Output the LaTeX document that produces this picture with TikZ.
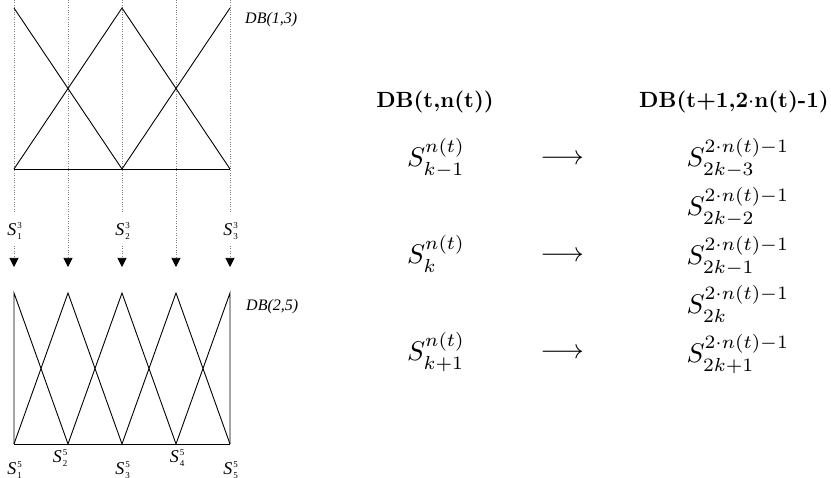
\documentclass[tikz,border=0pt]{standalone}
\usepackage{fontspec}
\newfontfamily\tms{Liberation Serif}
\usetikzlibrary{arrows.meta}
\newcommand{\Slab}[2]{{\tms\fontsize{18}{18}\selectfont\textit{S}\kern1pt\makebox[0pt][l]{\raisebox{7.5pt}{\fontsize{9}{9}\selectfont #2}}\raisebox{-3.5pt}{\fontsize{9}{9}\selectfont #1}}}
\tikzset{
  curve/.style={line width=0.9pt, black},
  guide/.style={black!50, line width=0.7pt, dash pattern=on 0.8pt off 1.6pt},
  tipd/.style={-{Triangle[width=9pt,length=9pt,color=black]}},
  dblab/.style={font=\tms\fontsize{16}{16}\selectfont\itshape, anchor=west, inner sep=0pt},
  slab/.style={anchor=base, inner sep=0pt},
  mth/.style={scale=2.7, inner sep=0pt},
  hdr/.style={scale=2.2, font=\bfseries, inner sep=0pt}
}
\begin{document}
\begin{tikzpicture}[x=1pt,y=-1pt]
\useasboundingbox (0,0) rectangle (831,478);
\foreach \x [count=\i] in {14,68,122,176,230} {
  \coordinate (g\i) at (\x,0);
  \coordinate (a\i) at (\x,267);
  \coordinate (u\i) at (\x,213);
  \coordinate (d\i) at (\x,246);
  \coordinate (t\i) at (\x,8);
  \coordinate (b\i) at (\x,169);
  \coordinate (T\i) at (\x,293);
  \coordinate (B\i) at (\x,444);
}
% guides
\draw[guide] (g1) -- (u1);
\draw[guide] (g3) -- (u3);
\draw[guide] (g5) -- (u5);
\draw[guide,tipd] (d1) -- (a1);
\draw[guide,tipd] (d3) -- (a3);
\draw[guide,tipd] (d5) -- (a5);
\draw[guide,tipd] (g2) -- (a2);
\draw[guide,tipd] (g4) -- (a4);
% top diagram DB(1,3)
\draw[curve] (t1) -- (b3) -- (t5);
\draw[curve] (b1) -- (t3) -- (b5);
\draw[curve] (b1) -- (b5);
% bottom diagram DB(2,5)
\draw[curve] (B1) -- (T1) -- (B2) -- (T3) -- (B4) -- (T5) -- (B5);
\draw[curve] (B1) -- (T2) -- (B3) -- (T4) -- (B5);
\draw[curve] (B1) -- (B5);
% labels
\node[dblab] (db13) at (245,20) {DB(1,3)};
\node[dblab] (db25) at (246,307) {DB(2,5)};
\node[slab] (s13) at (14.5,236) {\Slab{1}{3}};
\node[slab] (s23) at (122.5,236) {\Slab{2}{3}};
\node[slab] (s33) at (230.5,236) {\Slab{3}{3}};
\node[slab] (s15) at (14.5,475) {\Slab{1}{5}};
\node[slab] (s25) at (60,463) {\Slab{2}{5}};
\node[slab] (s35) at (122.5,475) {\Slab{3}{5}};
\node[slab] (s45) at (177,463) {\Slab{4}{5}};
\node[slab] (s55) at (230.5,475) {\Slab{5}{5}};
% right part
\node[hdr] (h1) at (435,102) {DB(t,n(t))};
\node[hdr] (h2) at (734,102) {DB(t+1,2$\cdot$n(t)-1)};
\node[mth, anchor=base west] (l1) at (406.5,167) {$S^{n(t)}_{k-1}$};
\node[mth, anchor=base west] (l2) at (406.5,264) {$S^{n(t)}_{k}$};
\node[mth, anchor=base west] (l3) at (406.5,361) {$S^{n(t)}_{k+1}$};
\node[mth] (r1) at (562,160) {$\longrightarrow$};
\node[mth] (r2) at (562,257) {$\longrightarrow$};
\node[mth] (r3) at (562,354) {$\longrightarrow$};
\node[mth, anchor=base west] (q1) at (686,167) {$S^{2\cdot n(t)-1}_{2k-3}$};
\node[mth, anchor=base west] (q2) at (686,216) {$S^{2\cdot n(t)-1}_{2k-2}$};
\node[mth, anchor=base west] (q3) at (686,265) {$S^{2\cdot n(t)-1}_{2k-1}$};
\node[mth, anchor=base west] (q4) at (686,314) {$S^{2\cdot n(t)-1}_{2k}$};
\node[mth, anchor=base west] (q5) at (686,363) {$S^{2\cdot n(t)-1}_{2k+1}$};
\end{tikzpicture}
\end{document}
